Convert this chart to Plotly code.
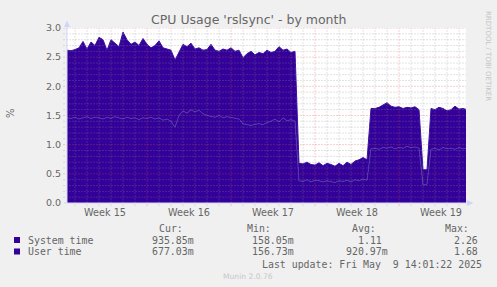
import pandas as pd
import plotly.graph_objects as go

# ---------------- data ----------------
start_time = "2025-04-06 08:00"
step = "8h"

system_time = [
    1.46, 1.45, 1.47, 1.44, 1.46, 1.48, 1.45, 1.47, 1.46, 1.44,
    1.47, 1.45, 1.48, 1.46, 1.44, 1.47, 1.45, 1.46, 1.43, 1.46,
    1.45, 1.47, 1.44, 1.46, 1.42, 1.44, 1.40, 1.30, 1.50, 1.58,
    1.54, 1.60, 1.56, 1.59, 1.53, 1.50, 1.48, 1.47, 1.50, 1.46,
    1.48, 1.47, 1.45, 1.44, 1.36, 1.34, 1.33, 1.35, 1.36, 1.34,
    1.38, 1.40, 1.44, 1.39, 1.46, 1.41, 1.43, 1.40, 0.38, 0.37,
    0.40, 0.36, 0.39, 0.38, 0.36, 0.38, 0.37, 0.35, 0.38, 0.37,
    0.39, 0.36, 0.40, 0.38, 0.41, 0.39, 0.93, 0.94, 0.92, 0.95,
    0.94, 0.96, 0.93, 0.95, 0.94, 0.97, 0.95, 0.96, 0.94, 0.31,
    0.32, 0.92, 0.94, 0.91, 0.95, 0.93, 0.94, 0.92, 0.95, 0.93,
    0.94,
]
user_time = [
    1.16, 1.16, 1.16, 1.22, 1.31, 1.16, 1.31, 1.23, 1.38, 1.36,
    1.15, 1.35, 1.26, 1.22, 1.49, 1.33, 1.27, 1.30, 1.27, 1.36,
    1.27, 1.19, 1.26, 1.32, 1.24, 1.20, 1.22, 1.15, 1.10, 1.14,
    1.14, 1.14, 1.08, 1.07, 1.09, 1.13, 1.24, 1.15, 1.10, 1.18,
    1.14, 1.19, 1.15, 1.18, 1.13, 1.22, 1.27, 1.19, 1.22, 1.22,
    1.24, 1.18, 1.16, 1.29, 1.16, 1.23, 1.15, 1.20, 0.30, 0.30,
    0.30, 0.30, 0.26, 0.31, 0.28, 0.30, 0.29, 0.28, 0.30, 0.27,
    0.31, 0.30, 0.32, 0.36, 0.37, 0.35, 0.69, 0.68, 0.72, 0.73,
    0.78, 0.70, 0.71, 0.70, 0.68, 0.67, 0.68, 0.69, 0.66, 0.26,
    0.25, 0.70, 0.66, 0.73, 0.67, 0.65, 0.66, 0.74, 0.66, 0.69,
    0.66,
]

week_label_dates = ["2025-04-09 12:00", "2025-04-16 12:00", "2025-04-23 12:00",
                     "2025-04-30 12:00", "2025-05-07 12:00"]
week_labels = ["Week 15", "Week 16", "Week 17", "Week 18", "Week 19"]
y_ticks = [0.0, 0.5, 1.0, 1.5, 2.0, 2.5, 3.0]
y_tick_labels = ["0.0", "0.5", "1.0", "1.5", "2.0", "2.5", "3.0"]

legend_names = ["System time", "User time"]
cur_vals = ["935.85m", "677.03m"]
min_vals = ["158.05m", "156.73m"]
avg_vals = ["1.11", "920.97m"]
max_vals = ["2.26", "1.68"]

x_range = ["2025-04-06 08:00", "2025-05-09 14:00"]

# ---------------- styling ----------------
W, H = 497, 287
L, R, T, B = 67, 466, 28, 203
FILL = "#330099"
SEAM = "#5038a8"
FONT = "#666666"
AXIS = "#CFD6F8"
MINOR = "rgba(143,143,143,0.5)"
MAJOR = "rgba(224,80,80,0.55)"


def PX(px):
    return (px - L) / (R - L)


def PY(py):
    return (B - py) / (B - T)


times = pd.date_range(start_time, periods=len(system_time), freq=step)

fig = go.Figure()
fig.add_trace(go.Scatter(
    x=times, y=system_time, name=legend_names[0], stackgroup="cpu",
    mode="lines", line=dict(color=SEAM, width=1),
    fillcolor=FILL, hoverinfo="skip"))
fig.add_trace(go.Scatter(
    x=times, y=user_time, name=legend_names[1], stackgroup="cpu",
    mode="lines", line=dict(color="#3a10a0", width=1),
    fillcolor=FILL, hoverinfo="skip"))

shapes = []
# vertical grid (daily minor, weekly major on Sundays)
for d in pd.date_range("2025-04-07", "2025-05-09", freq="D"):
    major = d.dayofweek == 6
    shapes.append(dict(type="line", xref="x", yref="paper",
                       x0=d, x1=d, y0=PY(205.5), y1=1,
                       line=dict(color=MAJOR if major else MINOR, width=1,
                                 dash="1px,2px"), layer="above"))
# horizontal grid
for i in range(1, 31):
    major = i % 5 == 0
    shapes.append(dict(type="line", xref="paper", yref="y",
                       x0=PX(63.5), x1=1, y0=i / 10, y1=i / 10,
                       line=dict(color=MAJOR if major else MINOR, width=1,
                                 dash="1px,2px"), layer="above"))
# axes lines and arrows
shapes.append(dict(type="line", xref="paper", yref="paper",
                   x0=PX(67), x1=PX(67), y0=PY(203), y1=PY(26),
                   line=dict(color=AXIS, width=1), layer="above"))
shapes.append(dict(type="line", xref="paper", yref="paper",
                   x0=PX(64), x1=PX(469), y0=PY(203), y1=PY(203),
                   line=dict(color=AXIS, width=1), layer="above"))
shapes.append(dict(type="path", xref="paper", yref="paper",
                   path=f"M {PX(64)} {PY(27)} L {PX(70)} {PY(27)} L {PX(67)} {PY(20.5)} Z",
                   fillcolor=AXIS, line=dict(width=0), layer="above"))
shapes.append(dict(type="path", xref="paper", yref="paper",
                   path=f"M {PX(467)} {PY(200)} L {PX(467)} {PY(206)} L {PX(473.5)} {PY(203)} Z",
                   fillcolor=AXIS, line=dict(width=0), layer="above"))
# legend swatches
for row_y in (237, 248.5):
    shapes.append(dict(type="rect", xref="paper", yref="paper",
                       x0=PX(14), x1=PX(20), y0=PY(row_y), y1=PY(row_y + 6),
                       fillcolor=FILL, line=dict(width=0), layer="above"))

ann = []


def text(s, px, py, size, anchor="center", family="DejaVu Sans", color=FONT, angle=0):
    ann.append(dict(text=s, x=PX(px), y=PY(py), xref="paper", yref="paper",
                    showarrow=False, xanchor=anchor, yanchor="middle",
                    textangle=angle, borderpad=0,
                    font=dict(family=family, size=size, color=color)))


MONO = "DejaVu Sans Mono"
text("CPU Usage 'rslsync' - by month", 248.5, 19, 12.5)
text("%", 10, 113, 10, angle=-90)
text("RRDTOOL / TOBI OETIKER", 488, 56, 7, color="#c4c4c4", angle=90)
for h, cx in zip(["Cur:", "Min:", "Avg:", "Max:"], [170.5, 258.5, 363.5, 457]):
    text(h, cx, 228, 9.9, family=MONO)
rows_y = [240, 251.5]
for i in range(2):
    y = rows_y[i]
    text(legend_names[i], 26.5, y, 9.9, anchor="left", family=MONO)
    text(cur_vals[i], 195, y, 9.9, anchor="right", family=MONO)
    text(min_vals[i], 295, y, 9.9, anchor="right", family=MONO)
    text(avg_vals[i], 389 if avg_vals[i].endswith("m") else 383, y, 9.9,
         anchor="right", family=MONO)
    text(max_vals[i], 484.5 if max_vals[i].endswith("m") else 478.5, y, 9.9,
         anchor="right", family=MONO)
text("Last update: Fri May\u00a0\u00a09 14:01:22 2025", 483.5, 264, 9.9,
     anchor="right", family=MONO)
text("Munin 2.0.76", 248, 276.5, 7.6, color="#c8c8c8")

fig.update_layout(
    width=W, height=H, autosize=False,
    margin=dict(l=L, r=W - R, t=T, b=H - B, pad=0),
    paper_bgcolor="#F0F0F0", plot_bgcolor="#FFFFFF",
    showlegend=False, shapes=shapes, annotations=ann,
    font=dict(family="DejaVu Sans", color=FONT),
)
fig.update_xaxes(type="date", range=x_range, showgrid=False, zeroline=False,
                 showline=False, ticks="", tickvals=week_label_dates,
                 ticktext=week_labels, tickfont=dict(size=9.7, color=FONT),
                 ticklabelstandoff=2, fixedrange=True)
fig.update_yaxes(range=[0, 3], showgrid=False, zeroline=False, showline=False,
                 ticks="", tickvals=y_ticks, ticktext=y_tick_labels,
                 tickfont=dict(size=9.5, color=FONT), ticklabelstandoff=5,
                 fixedrange=True)

fig.write_html("out.html", config={"displayModeBar": False})
